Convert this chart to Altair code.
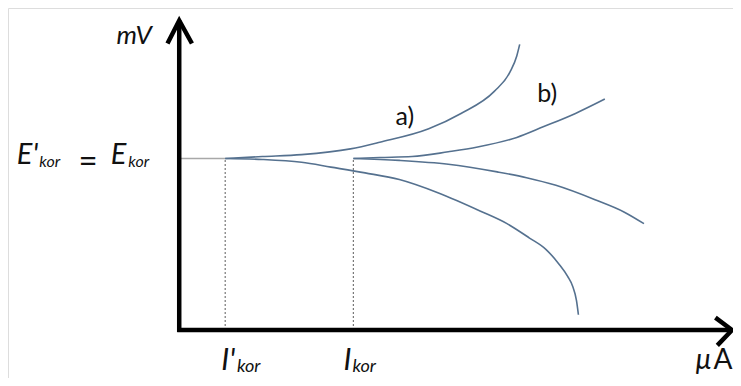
import altair as alt
import pandas as pd

# ---- values (units: relative to the axis origin) ----
E_kor = 179          # corrosion potential level
I_kor_prime = 47     # I'kor position on the current axis
I_kor = 178          # Ikor position on the current axis

# curve a) (from I'kor, rising)
a_x = [47, 85, 125, 175, 205, 255, 288, 322, 338, 345, 348]
a_y = [179, 181, 183, 189, 196, 210, 226, 249, 269, 286, 298]
# curve from I'kor, falling
c_x = [47, 85, 125, 155, 190, 225, 265, 308, 335, 358, 375, 388, 397, 402, 406, 408]
c_y = [179, 178, 175, 170, 164, 157, 143, 124, 111, 96, 84, 69, 56, 46, 31, 16]
# curve b) (from Ikor, rising)
b_x = [178, 205, 238, 275, 305, 345, 372, 405, 435]
b_y = [179, 180, 181, 186, 191, 201, 212, 226, 241]
# curve from Ikor, falling
d_x = [178, 225, 275, 325, 355, 385, 425, 455, 475]
d_y = [179, 177, 173, 165, 159, 151, 136, 123, 111]

# axis lines and arrow heads
axis_v_x = [0, 0]
axis_v_y = [-2, 323]
axis_h_x = [-2, 565]
axis_h_y = [0, 0]
arrow_up_x = [-12, 0, 13]
arrow_up_y = [299, 323, 299]
arrow_right_x = [548, 565, 550]
arrow_right_y = [13, 0, -16]

# text labels
italic_text = ["mV", "E'", "kor", "E", "kor", "I'", "kor", "I", "kor", "μ"]
italic_x = [-64, -166, -143, -70, -52, 43, 59, 168, 177, 528]
italic_y = [298, 173, 170, 173, 170, -42, -44, -42, -44, -41]
italic_size = [26, 29, 16, 29, 16, 30, 18, 30, 18, 28]

plain_text = ["=", "A", "a)", "b)"]
plain_x = [-103, 546, 221, 366]
plain_y = [165, -41, 214, 238]
plain_size = [33, 28, 25, 25]

X_DOMAIN = [-175, 566]
Y_DOMAIN = [-50, 336]

xs = alt.Scale(domain=X_DOMAIN, nice=False, zero=False)
ys = alt.Scale(domain=Y_DOMAIN, nice=False, zero=False)


def xy(x="x", y="y"):
    return dict(
        x=alt.X(f"{x}:Q", scale=xs, axis=None),
        y=alt.Y(f"{y}:Q", scale=ys, axis=None),
    )


rows = []
for name, xx, yy in [("a", a_x, a_y), ("c", c_x, c_y), ("b", b_x, b_y), ("d", d_x, d_y)]:
    for i, (px, py) in enumerate(zip(xx, yy)):
        rows.append({"curve": name, "x": px, "y": py, "o": i})
curves_df = pd.DataFrame(rows)

curves = alt.Chart(curves_df).mark_line(
    interpolate="monotone", color="#55718f", strokeWidth=1.6
).encode(**xy(), detail="curve:N", order="o:Q")

e_line = alt.Chart(pd.DataFrame({"x": [0], "x2": [I_kor_prime], "y": [E_kor]})).mark_rule(
    color="#a8a8a8", strokeWidth=1.5
).encode(**xy(), x2="x2:Q")

dots_df = pd.DataFrame({"x": [I_kor_prime, I_kor], "y": [0, 0], "y2": [E_kor, E_kor]})
dots = alt.Chart(dots_df).mark_rule(
    color="#777777", strokeWidth=1.2, strokeDash=[2, 2]
).encode(**xy(), y2="y2:Q")

lines_rows = []
for name, xx, yy in [("v", axis_v_x, axis_v_y), ("h", axis_h_x, axis_h_y),
                     ("au", arrow_up_x, arrow_up_y), ("ar", arrow_right_x, arrow_right_y)]:
    for i, (px, py) in enumerate(zip(xx, yy)):
        lines_rows.append({"g": name, "x": px, "y": py, "o": i})
axes = alt.Chart(pd.DataFrame(lines_rows)).mark_line(
    color="black", strokeWidth=4.5, strokeJoin="miter", strokeCap="butt"
).encode(**xy(), detail="g:N", order="o:Q")

it_df = pd.DataFrame({"t": italic_text, "x": italic_x, "y": italic_y, "s": italic_size})
it_text = alt.Chart(it_df).mark_text(
    align="left", baseline="alphabetic", font="Lato", fontStyle="italic", color="#111111"
).encode(**xy(), text="t:N", size=alt.Size("s:Q", scale=None, legend=None))

pl_df = pd.DataFrame({"t": plain_text, "x": plain_x, "y": plain_y, "s": plain_size})
pl_text = alt.Chart(pl_df).mark_text(
    align="left", baseline="alphabetic", font="Lato", color="#111111"
).encode(**xy(), text="t:N", size=alt.Size("s:Q", scale=None, legend=None))

chart = alt.layer(e_line, dots, curves, axes, it_text, pl_text).properties(
    width=725, height=370,
    autosize=alt.AutoSizeParams(type="none"),
    padding=0,
).configure_view(stroke=None).configure(background="white")

chart.save("out.html", embed_options={"renderer": "svg", "actions": False})
